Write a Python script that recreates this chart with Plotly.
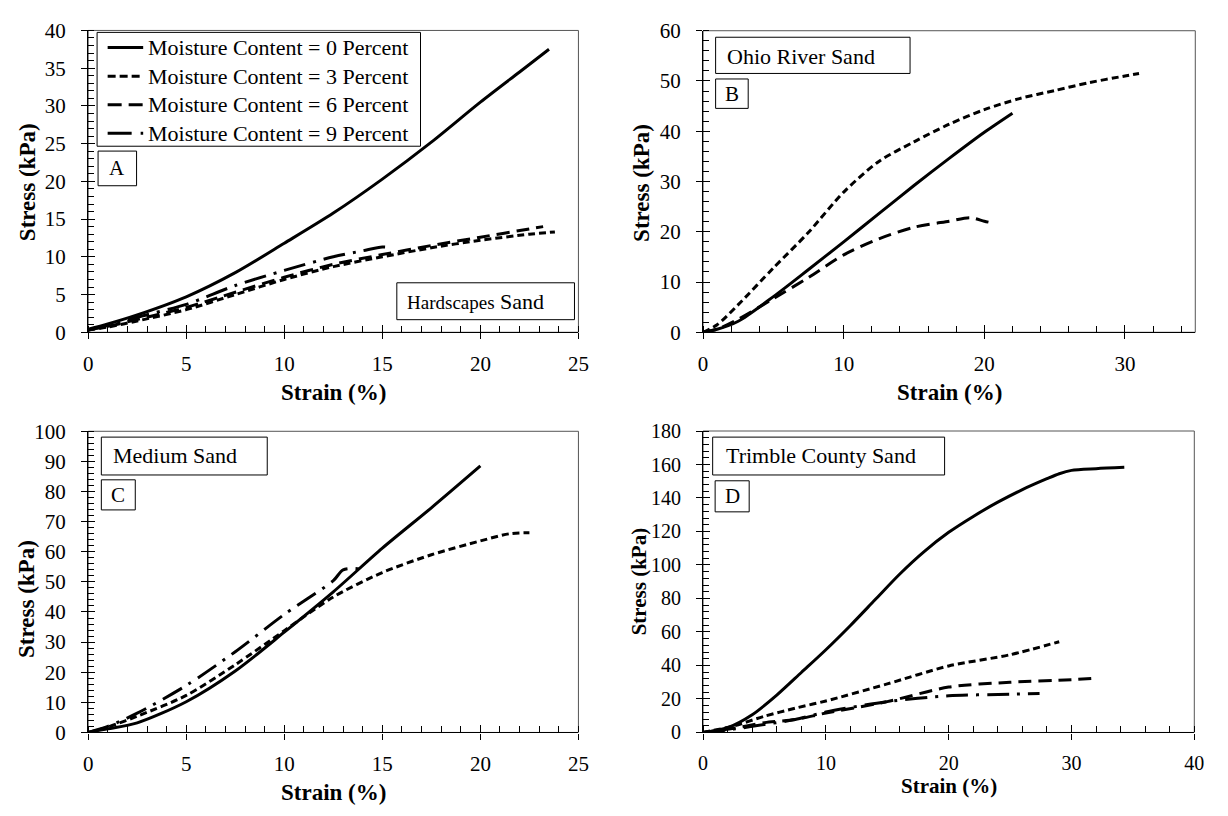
import plotly.graph_objects as go

W, H = 1228, 816
FONT = "Liberation Serif"

# ---------------- data ----------------
series_names = [
    "Moisture Content = 0 Percent",
    "Moisture Content = 3 Percent",
    "Moisture Content = 6 Percent",
    "Moisture Content = 9 Percent",
]

# Panel A - Hardscapes Sand
a_mc0_x = [0, 1, 2.5, 5, 7.5, 10, 12.5, 15, 17.5, 20, 22, 23.5]
a_mc0_y = [0.4, 1.1, 2.3, 4.7, 7.9, 11.8, 15.8, 20.3, 25.2, 30.5, 34.5, 37.5]
a_mc3_x = [0, 1, 2.5, 5, 7.5, 10, 12.5, 15, 17.5, 20, 22.5, 23.8]
a_mc3_y = [0.3, 0.7, 1.5, 3.0, 5.0, 7.0, 8.7, 10.0, 11.2, 12.2, 13.0, 13.3]
a_mc6_x = [0, 1, 2.5, 5, 7.5, 10, 12.5, 15, 17.5, 20, 22.5, 23.2]
a_mc6_y = [0.3, 0.8, 1.7, 3.3, 5.3, 7.3, 9.0, 10.3, 11.5, 12.6, 13.7, 14.0]
a_mc9_x = [0, 1, 2.5, 5, 7.5, 10, 12.5, 14, 15, 15.5]
a_mc9_y = [0.3, 0.9, 2.0, 3.7, 6.2, 8.2, 10.0, 10.8, 11.3, 11.2]

# Panel B - Ohio River Sand
b_mc0_x = [0, 1, 2.5, 5, 7.5, 10, 12.5, 15, 17.5, 20, 22]
b_mc0_y = [0, 0.6, 2.2, 7.1, 12.5, 18.0, 23.6, 29.2, 34.6, 39.8, 43.6]
b_mc3_x = [0, 1, 2.5, 5, 7.5, 10, 12.5, 15, 17.5, 20, 22.5, 25, 27.5, 30, 31]
b_mc3_y = [0, 1.5, 5.5, 12.8, 19.9, 27.9, 34.0, 37.9, 41.4, 44.3, 46.5, 48.1, 49.7, 51.0, 51.5]
b_mc6_x = [0, 1, 2.5, 5, 7.5, 10, 12.5, 15, 17.5, 19, 20, 20.5]
b_mc6_y = [0, 0.6, 2.6, 6.7, 10.9, 15.4, 18.6, 20.9, 22.1, 22.8, 22.1, 21.8]

# Panel C - Medium Sand
c_mc0_x = [0, 1, 2.5, 5, 7.5, 10, 12.5, 15, 17.5, 20]
c_mc0_y = [0, 1.2, 3.2, 10.2, 20.4, 33.3, 46.7, 61.2, 74.6, 88.5]
c_mc3_x = [0, 1, 2.5, 5, 7.5, 10, 12.5, 15, 17.5, 20, 21.5, 22.5]
c_mc3_y = [0, 1.8, 5.4, 12.3, 22.5, 33.8, 45.0, 53.1, 59.0, 63.6, 66.0, 66.3]
c_mc9_x = [0, 1, 2.5, 5, 7.5, 10, 12.5, 13.0, 13.8, 14.0]
c_mc9_y = [0, 2.0, 6.4, 15.6, 26.8, 39.2, 50.4, 54.0, 54.3, 53.2]

# Panel D - Trimble County Sand
d_mc0_x = [0, 2, 4, 6, 8, 10, 12, 14, 16, 18, 20, 22, 24, 26, 28, 29, 30, 32, 34.3]
d_mc0_y = [0, 2.9, 10.6, 22.3, 35.8, 49.4, 63.9, 79.2, 94.5, 108.0, 119.5, 129.0,
           137.5, 145.0, 151.5, 154.5, 156.5, 157.5, 158.3]
d_mc3_x = [0, 2.5, 5, 7.5, 10, 15, 20, 25, 29]
d_mc3_y = [0, 3.9, 9.7, 14.5, 18.8, 29.0, 39.7, 46.4, 54.2]
d_mc6_x = [0, 2.5, 5, 7.5, 10, 15, 20, 25, 30, 32]
d_mc6_y = [0, 2.5, 5.8, 7.7, 11.6, 18.4, 27.1, 30.0, 31.5, 32.5]
d_mc9_x = [0, 2.5, 5, 7.5, 10, 15, 20, 25, 27.4]
d_mc9_y = [0, 2.0, 4.8, 7.7, 12.2, 18.4, 21.9, 22.8, 23.2]

# ---------------- styling ----------------
line_dashes = ["solid", "7px,4px", "13px,7px", "22px,8px,3px,8px"]
key_dashes = ["solid", "8px,4px", "14px,7px", "24px,9px,3px,9px"]


def px_x(p):
    return p / W


def px_y(p):
    return 1 - p / H


fig = go.Figure()

panels = [
    # (axis suffix, series, x range, y range, x major, x minor, y major, y minor,
    #  plot area in px (left, right, top, bottom), tick font size)
    ("", [(a_mc0_x, a_mc0_y, 0), (a_mc3_x, a_mc3_y, 1), (a_mc6_x, a_mc6_y, 2), (a_mc9_x, a_mc9_y, 3)],
     [0, 25], [0, 40], 5, 1, 5, 1, (84.3, 581, 19, 330), 21),
    ("2", [(b_mc0_x, b_mc0_y, 0), (b_mc3_x, b_mc3_y, 1), (b_mc6_x, b_mc6_y, 2)],
     [0, 35], [0, 60], 10, 2, 10, 2, (707.3, 1206, 19.3, 330), 21),
    ("3", [(c_mc0_x, c_mc0_y, 0), (c_mc3_x, c_mc3_y, 1), (c_mc9_x, c_mc9_y, 3)],
     [0, 25], [0, 100], 5, 1, 10, 2, (84.3, 581, 432, 742.3), 21),
    ("4", [(d_mc0_x, d_mc0_y, 0), (d_mc3_x, d_mc3_y, 1), (d_mc6_x, d_mc6_y, 2), (d_mc9_x, d_mc9_y, 3)],
     [0, 40], [0, 180], 10, 2, 20, 4, (707.3, 1205, 431.7, 742.3), 20),
]

layout_axes = {}
shapes = []
for i, (sfx, series, xr, yr, xmaj, xmin, ymaj, ymin, dom, tfs) in enumerate(panels):
    xa, ya = "x" + sfx, "y" + sfx
    for xs, ys, k in series:
        fig.add_trace(go.Scatter(
            x=xs, y=ys, mode="lines", name=series_names[k],
            line=dict(color="black", width=3, dash=line_dashes[k], shape="spline", smoothing=0.8),
            xaxis=xa, yaxis=ya, showlegend=False,
        ))
    xd = [px_x(dom[0]), px_x(dom[1])]
    yd = [px_y(dom[3]), px_y(dom[2])]
    common = dict(showgrid=False, zeroline=False, tickmode="linear", tick0=0,
                  ticks="outside", ticklen=6, tickwidth=1.3, tickcolor="black",
                  showline=True, linecolor="black", linewidth=1.3,
                  tickfont=dict(family=FONT, size=tfs, color="black"))
    layout_axes["xaxis" + sfx] = dict(
        common, domain=xd, range=xr, dtick=xmaj, anchor=ya, ticklabelstandoff=6,
        minor=dict(dtick=xmin, ticks="inside", ticklen=6, tickwidth=1, tickcolor="black"))
    layout_axes["yaxis" + sfx] = dict(
        common, domain=yd, range=yr, dtick=ymaj, anchor=xa, ticklabelstandoff=11,
        minor=dict(dtick=ymin, ticks="inside", ticklen=6, tickwidth=1, tickcolor="black"))
    # inward half of the major tick marks, drawn by an overlaid axis pair
    n = str(5 + i)
    ov = dict(showgrid=False, zeroline=False, showline=False, showticklabels=False,
              tickmode="linear", tick0=0, ticks="inside", ticklen=7, tickwidth=1.3,
              tickcolor="black")
    layout_axes["xaxis" + n] = dict(ov, domain=xd, range=xr, dtick=xmaj,
                                    overlaying=xa, anchor="y" + n)
    layout_axes["yaxis" + n] = dict(ov, domain=yd, range=yr, dtick=ymaj,
                                    overlaying=ya, anchor="x" + n)
    fig.add_trace(go.Scatter(x=[], y=[], xaxis="x" + n, yaxis="y" + n,
                             showlegend=False, hoverinfo="skip"))
    # frame on the top and right sides of the plot area
    shapes.append(dict(type="rect", xref=xa + " domain", yref=ya + " domain",
                       x0=0, x1=1, y0=0, y1=1, line=dict(color="#555", width=1),
                       layer="below"))

annotations = []


def text(x, y, s, size, xanchor="left", angle=0):
    annotations.append(dict(x=px_x(x), y=px_y(y), xref="paper", yref="paper", text=s,
                            showarrow=False, xanchor=xanchor, yanchor="middle",
                            textangle=angle,
                            font=dict(family=FONT, size=size, color="black")))


# key for panel A: framed box, line samples and labels
shapes.append(dict(type="rect", xref="paper", yref="paper",
                   x0=px_x(93.3), x1=px_x(421), y0=px_y(138.3), y1=px_y(21),
                   line=dict(color="black", width=1), fillcolor="white"))
for k, name in enumerate(series_names):
    row_y = 36.7 + 29.4 * k
    shapes.append(dict(type="line", xref="paper", yref="paper",
                       x0=px_x(104), x1=px_x(140), y0=px_y(row_y), y1=px_y(row_y),
                       line=dict(color="black", width=3, dash=key_dashes[k])))
    text(143.3, row_y, name, 22)

# label boxes (left, top, right, bottom in px)
boxes = [
    (397, 279, 577, 317), (94.3, 143.3, 133.3, 179),
    (720, 26, 917, 63.3), (720, 69, 753, 99.3),
    (97.6, 438, 265.7, 477), (97.6, 482, 132, 513),
    (717, 438, 952, 477), (719.5, 483, 754, 515),
]
for l, t, r, b in boxes:
    shapes.append(dict(type="rect", xref="paper", yref="paper",
                       x0=px_x(l), x1=px_x(r), y0=px_y(b), y1=px_y(t),
                       line=dict(color="black", width=1), fillcolor="white"))

text(405.5, 298, "<span style='font-size:19px'>Hardscapes</span> Sand", 22)
text(730, 45.5, "Ohio River Sand", 22)
text(107, 457, "Medium Sand", 22)
text(728, 457, "Trimble County Sand", 22)
text(113.8, 161, "A", 21, "center")
text(736.5, 84, "B", 21, "center")
text(114.8, 497.5, "C", 21, "center")
text(736.7, 499, "D", 21, "center")

# axis titles
text(23.6, 175, "<b>Stress (kPa)</b>", 23, "center", -90)
text(645.5, 176, "<b>Stress (kPa)</b>", 23, "center", -90)
text(21, 605, "<b>Stress (kPa)</b>", 23, "center", -90)
text(642, 587, "<b>Stress (kPa)</b>", 21, "center", -90)
text(332.7, 392, "<b>Strain (%)</b>", 23, "center")
text(956.5, 392, "<b>Strain (%)</b>", 23, "center")
text(332.5, 804, "<b>Strain (%)</b>", 23, "center")
text(956, 797, "<b>Strain (%)</b>", 21, "center")

fig.update_layout(
    width=W, height=H,
    margin=dict(l=0, r=0, t=0, b=0),
    paper_bgcolor="white", plot_bgcolor="white",
    font=dict(family=FONT, color="black"),
    showlegend=False,
    shapes=shapes, annotations=annotations,
    **layout_axes,
)

fig.write_html("out.html")
